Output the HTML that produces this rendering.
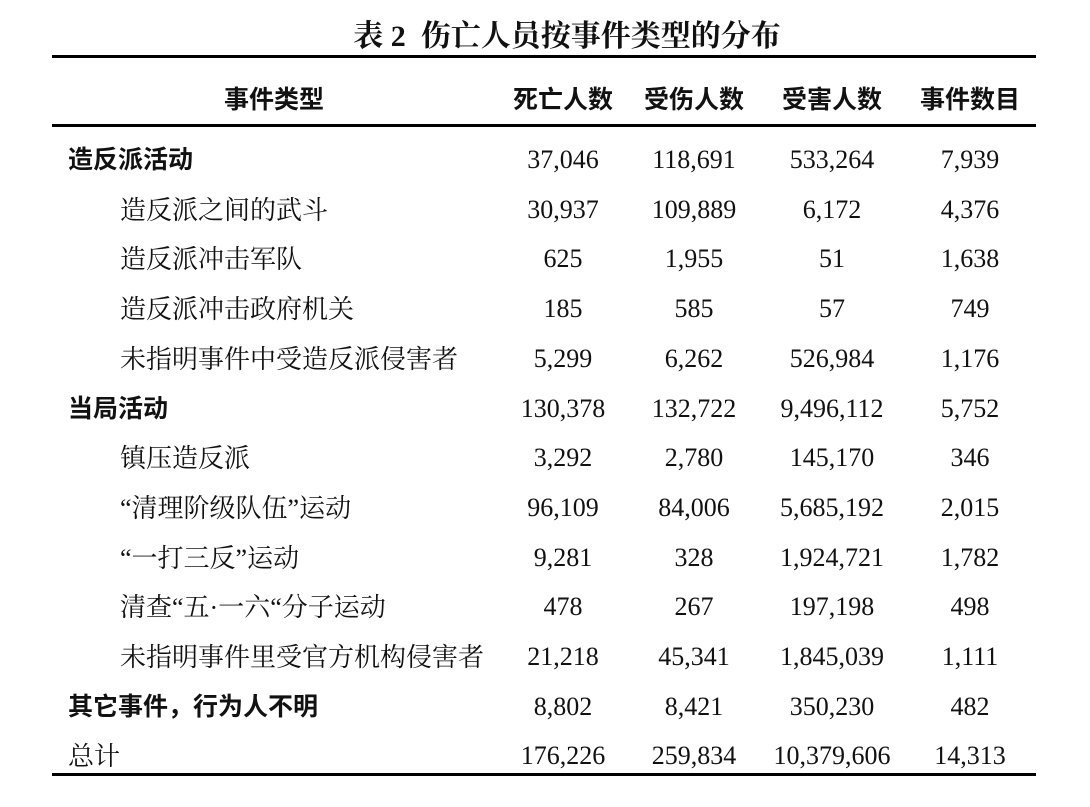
<!DOCTYPE html>
<html><head><meta charset="utf-8"><style>
body{margin:0;background:#fff;width:1090px;height:807px;position:relative;overflow:hidden;color:#111}
.t{position:absolute;white-space:nowrap;line-height:1}
.title{left:22px;width:1090px;text-align:center;top:11px;font:bold 30px "Liberation Serif","Noto Serif CJK SC",serif}
.rule{position:absolute;left:52px;width:984px;background:#000}
.b{font:bold 25px "Liberation Sans","Noto Sans CJK SC",sans-serif;left:68px}
.s{font:26px "Liberation Serif","Noto Serif CJK SC",serif;left:120px}
.n{font:26px "Liberation Serif","Noto Serif CJK SC",serif;text-align:center;width:140px}
.h{font:bold 25px "Liberation Sans","Noto Sans CJK SC",sans-serif}
</style></head><body>
<div class="t title">表 2&nbsp;&nbsp;伤亡人员按事件类型的分布</div>
<div class="rule" style="top:55px;height:3px"></div>
<div class="rule" style="top:124px;height:3px"></div>
<div class="rule" style="top:773px;height:3px"></div>
<div class="t h" style="left:224px;top:80px">事件类型</div>
<div class="t n h" style="left:493px;top:80px">死亡人数</div>
<div class="t n h" style="left:624px;top:80px">受伤人数</div>
<div class="t n h" style="left:762px;top:80px">受害人数</div>
<div class="t n h" style="left:900px;top:80px">事件数目</div>
<div id="rows"></div>
<script>
var d=[["b","造反派活动","37,046","118,691","533,264","7,939"],
["s","造反派之间的武斗","30,937","109,889","6,172","4,376"],
["s","造反派冲击军队","625","1,955","51","1,638"],
["s","造反派冲击政府机关","185","585","57","749"],
["s","未指明事件中受造反派侵害者","5,299","6,262","526,984","1,176"],
["b","当局活动","130,378","132,722","9,496,112","5,752"],
["s","镇压造反派","3,292","2,780","145,170","346"],
["s","“清理阶级队伍”运动","96,109","84,006","5,685,192","2,015"],
["s","“一打三反”运动","9,281","328","1,924,721","1,782"],
["s","清查“五·一六“分子运动","478","267","197,198","498"],
["s","未指明事件里受官方机构侵害者","21,218","45,341","1,845,039","1,111"],
["b","其它事件，行为人不明","8,802","8,421","350,230","482"],
["s","总计","176,226","259,834","10,379,606","14,313"]];
var xs=[493,624,762,900],h="";
d.forEach(function(r,i){var y=146+i*49.7;var c=r[0];var st=(i==12)?"left:68px;":"";
h+='<div class="t '+c+'" style="'+st+'top:'+(y-6)+'px">'+r[1]+'</div>';
for(var k=0;k<4;k++)h+='<div class="t n" style="left:'+xs[k]+'px;top:'+(y-1)+'px">'+r[k+2]+'</div>';});
document.getElementById("rows").innerHTML=h;
</script>
</body></html>
